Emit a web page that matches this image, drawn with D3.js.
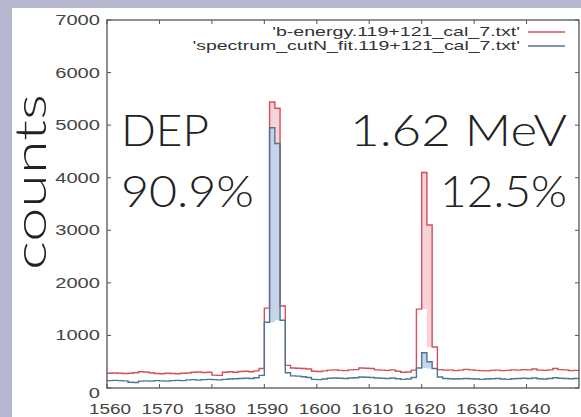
<!DOCTYPE html>
<html>
<head>
<meta charset="utf-8">
<script src="https://cdn.jsdelivr.net/npm/d3@7"></script>
<style>
html,body{margin:0;padding:0;background:#b7b7cf;}
svg{display:block;}
</style>
</head>
<body>
<svg id="chart" width="581" height="417"></svg>
<script>
// ---- data ----
const energyStart = 1560;
const redCounts = [
 280,285,280,275,280,290,310,305,290,275,
 270,280,275,270,280,285,300,305,295,300,
 245,240,300,310,300,315,320,310,325,370,
 1520,5440,5320,1560,430,380,375,370,360,320,
 315,325,340,345,335,330,345,350,380,375,
 370,345,340,335,345,320,300,305,340,1500,
 4100,3100,780,350,340,345,330,340,355,345,
 335,330,325,335,340,330,335,345,340,350,
 345,360,340,335,345,370,350,345,330,335
];
const blueCounts = [
 140,145,140,135,110,105,130,135,130,140,
 135,130,140,145,140,155,160,150,160,165,
 160,155,165,170,175,180,185,180,195,240,
 1250,4950,4650,1290,290,230,225,215,200,165,
 160,170,185,190,185,180,190,195,210,205,
 200,190,185,180,190,175,165,170,200,380,
 670,500,370,210,180,175,170,175,180,175,
 170,165,170,175,180,170,165,175,180,185,
 180,190,175,170,180,195,185,180,175,180
];
const seriesNames = ["'b-energy.119+121_cal_7.txt'", "'spectrum_cutN_fit.119+121_cal_7.txt'"];
const yTicks = [0,1000,2000,3000,4000,5000,6000,7000];
const xTicks = [1560,1570,1580,1590,1600,1610,1620,1630,1640];
const annotations = [
  {text:"DEP", side:"left", row:0},
  {text:"90.9%", side:"left", row:1},
  {text:"1.62 MeV", side:"right", row:0},
  {text:"12.5%", side:"right", row:1}
];
const yLabel = "counts";

// ---- layout ----
const svg = d3.select("#chart");
const W = 581, H = 417;
const m = {left:107, top:20, right:2, bottom:29};
const x = d3.scaleLinear().domain([1560,1650]).range([m.left, W - m.right]);
const y = d3.scaleLinear().domain([0,7000]).range([H - m.bottom, m.top]);

// white panel
svg.append("rect").attr("x",12).attr("y",8).attr("width",W-12).attr("height",H-8).attr("fill","#ffffff");

const colors = ["#d4505c", "#4f7596"];
const fills = ["#f5d3d6", "#c4d5ea"];
const series = [redCounts, blueCounts];

// interior peak fills
series.forEach((vals, s) => {
  const base = d3.median(vals);
  vals.forEach((v, i) => {
    if (i === 0 || i === vals.length - 1) return;
    const lo = Math.min(vals[i-1], vals[i+1]);
    if (lo > 2 * base && v > lo) {
      svg.append("rect")
        .attr("x", x(energyStart + i))
        .attr("width", x(energyStart + i + 1) - x(energyStart + i))
        .attr("y", y(v))
        .attr("height", y(lo) - y(v))
        .attr("fill", fills[s]);
    }
  });
});

// step lines
const line = d3.line().x(d => x(d[0])).y(d => y(d[1])).curve(d3.curveStepAfter);
series.forEach((vals, s) => {
  const pts = vals.map((v, i) => [energyStart + i, v]);
  pts.push([energyStart + vals.length, vals[vals.length - 1]]);
  svg.append("path").attr("d", line(pts)).attr("fill","none")
    .attr("stroke", colors[s]).attr("stroke-width", 1.4);
});

// border
const axisColor = "#555";
svg.append("rect").attr("x", m.left).attr("y", m.top)
  .attr("width", W - m.right - m.left).attr("height", H - m.bottom - m.top)
  .attr("fill","none").attr("stroke", axisColor).attr("stroke-width", 1.3);

// ticks (inward, mirrored)
const tl = 4;
yTicks.forEach(t => {
  svg.append("line").attr("x1", m.left).attr("x2", m.left + tl).attr("y1", y(t)).attr("y2", y(t)).attr("stroke", axisColor);
  svg.append("line").attr("x1", W - m.right).attr("x2", W - m.right - tl).attr("y1", y(t)).attr("y2", y(t)).attr("stroke", axisColor);
  const lab = String(t);
  svg.append("text").attr("x", 100).attr("y", y(t) + (t === 0 ? 10 : 5))
    .attr("text-anchor","end").attr("font-family","Liberation Sans, Arial, sans-serif")
    .attr("font-size", 14).attr("fill","#444")
    .attr("textLength", lab.length * 11.2).attr("lengthAdjust","spacingAndGlyphs")
    .text(lab);
});
xTicks.forEach(t => {
  svg.append("line").attr("x1", x(t)).attr("x2", x(t)).attr("y1", H - m.bottom).attr("y2", H - m.bottom - tl).attr("stroke", axisColor);
  svg.append("line").attr("x1", x(t)).attr("x2", x(t)).attr("y1", m.top).attr("y2", m.top + tl).attr("stroke", axisColor);
  const lab = String(t);
  svg.append("text").attr("x", x(t) + 3).attr("y", 414)
    .attr("text-anchor","middle").attr("font-family","Liberation Sans, Arial, sans-serif")
    .attr("font-size", 14).attr("fill","#444")
    .attr("textLength", lab.length * 10.5).attr("lengthAdjust","spacingAndGlyphs")
    .text(lab);
});

// legend
seriesNames.forEach((n, i) => {
  const ly = 32 + i * 14;
  svg.append("text").attr("x", 520).attr("y", ly + 4)
    .attr("text-anchor","end").attr("font-family","Liberation Sans, Arial, sans-serif")
    .attr("font-size", 13).attr("fill","#333")
    .attr("textLength", n.length * 8.85).attr("lengthAdjust","spacingAndGlyphs")
    .text(n);
  svg.append("line").attr("x1", 528).attr("x2", 565).attr("y1", ly).attr("y2", ly)
    .attr("stroke", colors[i]).attr("stroke-width", 1.4);
});

// y label
svg.append("text")
  .attr("transform", "translate(46,182) rotate(-90)")
  .attr("text-anchor","middle").attr("font-family","Lato, 'DejaVu Sans', sans-serif")
  .attr("font-weight", 300).attr("font-size", 44).attr("fill","#222")
  .attr("textLength", 176).attr("lengthAdjust","spacingAndGlyphs")
  .text(yLabel);

// annotations
const rowY = [146, 207];
const annWidth = {"DEP":88, "90.9%":133, "1.62 MeV":217, "12.5%":127};
annotations.forEach(a => {
  svg.append("text")
    .attr("x", a.side === "left" ? 121 : 567)
    .attr("y", rowY[a.row])
    .attr("text-anchor", a.side === "left" ? "start" : "end")
    .attr("font-family","Lato, 'DejaVu Sans', sans-serif")
    .attr("font-weight", 300).attr("font-size", 44).attr("fill","#222")
    .attr("textLength", annWidth[a.text]).attr("lengthAdjust","spacingAndGlyphs")
    .text(a.text);
});
</script>
</body>
</html>
